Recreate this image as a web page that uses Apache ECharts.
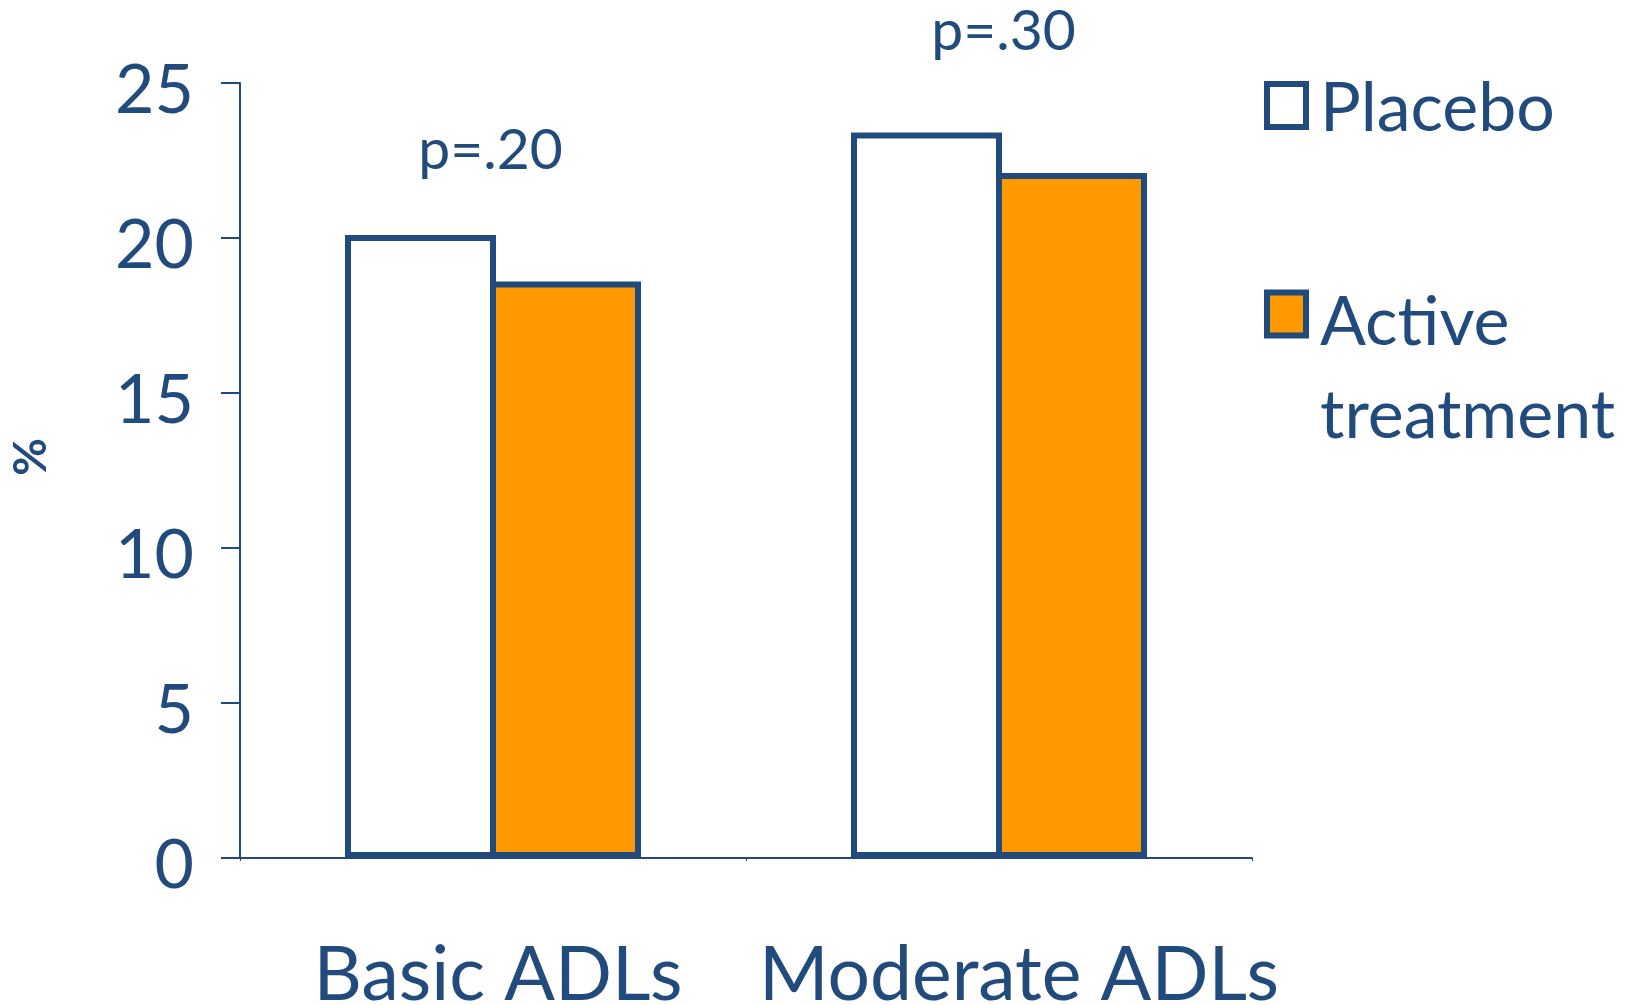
<!DOCTYPE html>
<html>
<head>
<meta charset="utf-8">
<title>ADL outcomes</title>
<script src="https://cdn.jsdelivr.net/npm/echarts@6/dist/echarts.min.js"></script>
<style>
  html, body { margin: 0; padding: 0; background: #ffffff; }
  #chart { width: 1641px; height: 1005px; }
</style>
</head>
<body>
<div id="chart"></div>
<script>
// Share of patients (%) by ADL domain and study arm
const categories = ['Basic ADLs', 'Moderate ADLs'];
const placebo = [20.1, 23.4];
const active = [18.6, 22.1];
const pValues = ['p=.20', 'p=.30'];
const seriesNames = ['Placebo', 'Active treatment'];
const legendLines = { 'Placebo': ['Placebo'], 'Active treatment': ['Active', 'treatment'] };

// Styling constants
const BLUE = '#224B7D';
const ORANGE = '#FF9900';
const FONT = 'Lato, "Open Sans", sans-serif';
const BAR_W = 151;
const BORDER = 6;
const LEGEND_LINE = 93;
const pLabelLift = [56, 72];               // px gap between each placebo bar and its p-value
const pLabelShift = [70, 77];              // px shift of each p-value to the right of the placebo bar centre
const catLabelShift = [10, 40];            // left padding used to nudge the category labels

const chart = echarts.init(document.getElementById('chart'), null, { renderer: 'canvas' });

const placeboData = placebo.map((v, i) => ({
  value: v,
  label: {
    show: true,
    formatter: pValues[i],
    position: 'top',
    distance: pLabelLift[i],
    offset: [pLabelShift[i], 0],
    color: BLUE,
    fontFamily: FONT,
    fontSize: 57
  }
}));

// Legend text is centred on its swatch, so a spacer line on top keeps the
// first text line level with the swatch (and drops it slightly lower).
function legendText(name) {
  const lines = legendLines[name];
  const spacer = lines.length === 1 ? '{s1|\u00a0}' : '{s2|\u00a0}';
  return [spacer].concat(lines).join('\n');
}

const option = {
  backgroundColor: '#ffffff',
  animation: false,
  grid: {
    left: 240, right: 389, top: 83, bottom: 147,
    containLabel: false, outerBoundsMode: 'none'
  },
  legend: {
    orient: 'vertical',
    left: 1264,
    top: 55,
    padding: 0,
    itemWidth: 39,
    itemHeight: 43,
    itemGap: 9,
    icon: 'rect',
    selectedMode: false,
    formatter: legendText,
    textStyle: {
      fontFamily: FONT, fontSize: 68, color: BLUE, lineHeight: LEGEND_LINE, padding: [0, 0, 0, 9],
      rich: {
        s1: { fontSize: 6, lineHeight: 8 },
        s2: { fontSize: 6, lineHeight: 112 }
      }
    },
    data: [
      { name: seriesNames[0], itemStyle: { color: '#ffffff', borderColor: BLUE, borderWidth: BORDER } },
      { name: seriesNames[1], itemStyle: { color: ORANGE, borderColor: BLUE, borderWidth: BORDER } }
    ]
  },
  xAxis: {
    type: 'category',
    data: categories,
    axisLine: { show: true, lineStyle: { color: BLUE, width: 2 } },
    axisTick: { show: true, length: 3, lineStyle: { color: BLUE, width: 1 } },
    axisLabel: {
      interval: 0,
      hideOverlap: false,
      margin: 80,
      color: BLUE,
      fontFamily: FONT,
      fontSize: 75,
      formatter: (v, i) => (i === 0 ? '{a|' + v + '}' : '{b|' + v + '}'),
      rich: {
        a: { fontFamily: FONT, fontSize: 75, color: BLUE, padding: [0, 0, 0, catLabelShift[0]] },
        b: { fontFamily: FONT, fontSize: 75, color: BLUE, padding: [0, 0, 0, catLabelShift[1]] }
      }
    },
    splitLine: { show: false }
  },
  yAxis: {
    type: 'value',
    min: 0,
    max: 25,
    interval: 5,
    axisLine: { show: true, lineStyle: { color: BLUE, width: 2 } },
    axisTick: { show: true, inside: false, length: 19, lineStyle: { color: BLUE, width: 2 } },
    axisLabel: {
      margin: 46,
      color: BLUE,
      fontFamily: FONT,
      fontSize: 68,
      verticalAlign: 'top',
      lineHeight: 16
    },
    splitLine: { show: false }
  },
  graphic: [{
    type: 'text',
    x: 31,
    y: 457,
    rotation: Math.PI / 2,
    style: {
      text: '%',
      fill: BLUE,
      font: 'bold 46px ' + FONT,
      textAlign: 'center',
      textVerticalAlign: 'middle'
    }
  }],
  series: [
    {
      name: seriesNames[0],
      type: 'bar',
      data: placeboData,
      barWidth: BAR_W,
      barGap: (-BORDER / BAR_W * 100).toFixed(2) + '%',
      itemStyle: { color: '#ffffff', borderColor: BLUE, borderWidth: BORDER },
      emphasis: { disabled: true }
    },
    {
      name: seriesNames[1],
      type: 'bar',
      data: active,
      barWidth: BAR_W,
      barGap: (-BORDER / BAR_W * 100).toFixed(2) + '%',
      itemStyle: { color: ORANGE, borderColor: BLUE, borderWidth: BORDER },
      emphasis: { disabled: true }
    }
  ]
};

chart.setOption(option);
</script>
</body>
</html>
